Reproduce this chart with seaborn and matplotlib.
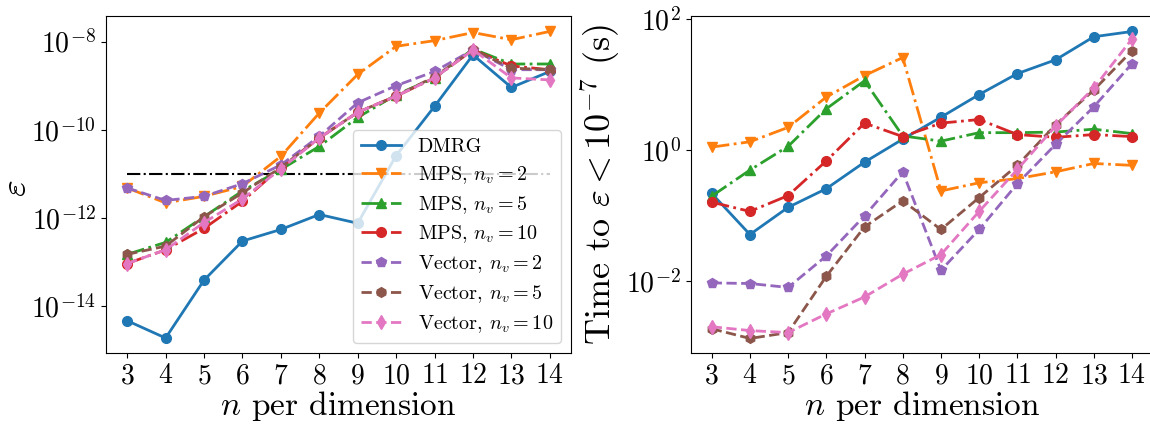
import matplotlib
matplotlib.use("Agg")
import matplotlib.pyplot as plt
import matplotlib.ticker as mticker
import seaborn as sns

plt.rcParams["font.family"] = ["serif"]
plt.rcParams["font.serif"] = ["cmr10", "DejaVu Serif"]
plt.rcParams["mathtext.fontset"] = "cm"
plt.rcParams["axes.formatter.use_mathtext"] = True
plt.rcParams["axes.unicode_minus"] = False

n = [3, 4, 5, 6, 7, 8, 9, 10, 11, 12, 13, 14]

labels = ["DMRG", r"MPS, $n_v = 2$", r"MPS, $n_v = 5$", r"MPS, $n_v = 10$",
          r"Vector, $n_v = 2$", r"Vector, $n_v = 5$", r"Vector, $n_v = 10$"]

# Left panel: error epsilon
err_dmrg = [4.7e-15, 1.9e-15, 3.9e-14, 3.0e-13, 5.5e-13, 1.2e-12, 7.6e-13, 2.6e-11, 3.4e-10, 5.0e-9, 9.1e-10, 2.1e-9]
err_mps2 = [4.8e-12, 2.2e-12, 3.1e-12, 5.2e-12, 2.5e-11, 2.4e-10, 1.8e-9, 7.8e-9, 1.05e-8, 1.6e-8, 1.1e-8, 1.7e-8]
err_mps5 = [1.5e-13, 2.8e-13, 1.07e-12, 4.1e-12, 1.26e-11, 4.2e-11, 1.9e-10, 6.2e-10, 1.5e-9, 6.8e-9, 3.1e-9, 3.1e-9]
err_mps10 = [9.3e-14, 1.9e-13, 5.8e-13, 2.4e-12, 1.4e-11, 6.5e-11, 2.5e-10, 5.8e-10, 1.5e-9, 6.5e-9, 2.8e-9, 2.3e-9]
err_vec2 = [4.8e-12, 2.5e-12, 3.1e-12, 6.0e-12, 1.6e-11, 7.1e-11, 4.1e-10, 1.0e-9, 2.1e-9, 6.5e-9, 2.3e-9, 2.3e-9]
err_vec5 = [1.5e-13, 2.3e-13, 1.07e-12, 3.7e-12, 1.4e-11, 6.5e-11, 2.5e-10, 5.8e-10, 1.6e-9, 6.5e-9, 2.5e-9, 2.3e-9]
err_vec10 = [9.3e-14, 1.9e-13, 7.9e-13, 2.7e-12, 1.3e-11, 6.5e-11, 2.5e-10, 5.8e-10, 1.5e-9, 6.5e-9, 1.5e-9, 1.35e-9]
threshold = 1e-11
left_yticks = [1e-14, 1e-12, 1e-10, 1e-8]

# Right panel: time to eps < 1e-7 (s)
t_dmrg = [0.22, 0.052, 0.135, 0.26, 0.66, 1.48, 3.2, 7.1, 14.8, 24, 54, 65]
t_mps2 = [1.12, 1.35, 2.24, 6.5, 13.8, 26, 0.24, 0.32, 0.37, 0.47, 0.63, 0.59]
t_mps5 = [0.20, 0.50, 1.15, 4.3, 11.5, 1.66, 1.38, 1.86, 1.86, 1.9, 2.1, 1.8]
t_mps10 = [0.162, 0.117, 0.204, 0.69, 2.6, 1.62, 2.6, 2.95, 1.74, 1.58, 1.74, 1.62]
t_vec2 = [0.0095, 0.0093, 0.0081, 0.0245, 0.10, 0.47, 0.0148, 0.062, 0.31, 1.23, 4.6, 21]
t_vec5 = [0.0019, 0.00135, 0.00166, 0.012, 0.068, 0.17, 0.062, 0.19, 0.59, 2.45, 8.3, 33]
t_vec10 = [0.00204, 0.00178, 0.00166, 0.0032, 0.0058, 0.0129, 0.0257, 0.117, 0.51, 2.34, 8.9, 50]
right_yticks = [1e-2, 1e0, 1e2]

colors = sns.color_palette("tab10", 7)
markers = ["o", "v", "^", "o", "p", "h", "d"]
styles = ["-", "-.", "-.", "-.", "--", "--", "--"]

fig = plt.figure(figsize=(11.5, 4.25), dpi=100)
ax1 = fig.add_axes([0.0922, 0.1694, 0.4043, 0.7930])
ax2 = fig.add_axes([0.6006, 0.1694, 0.4020, 0.7930])

left_series = [err_dmrg, err_mps2, err_mps5, err_mps10, err_vec2, err_vec5, err_vec10]
right_series = [t_dmrg, t_mps2, t_mps5, t_mps10, t_vec2, t_vec5, t_vec10]

for ax, series, ticks, with_label in [(ax1, left_series, left_yticks, True),
                                      (ax2, right_series, right_yticks, False)]:
    for i, vals in enumerate(series):
        sns.lineplot(x=n, y=vals, ax=ax, color=colors[i], marker=markers[i],
                     linestyle=styles[i], linewidth=2, markersize=7,
                     markeredgecolor=colors[i], markeredgewidth=1,
                     label=labels[i] if with_label else None, legend=False)
    ax.set_yscale("log")
    ax.set_yticks(ticks)
    ax.yaxis.set_minor_locator(mticker.NullLocator())
    ax.set_xticks(n)
    ax.tick_params(axis="both", labelsize=20)
    ax.set_xlabel(r"$n$ per dimension", fontsize=24, labelpad=0)

ax1.set_ylim(8.7e-16, 3.8e-8)
ax2.set_ylim(8.1e-4, 112)
ax1.hlines(threshold, n[0], n[-1], colors="k", linestyles="-.", linewidth=1.5, zorder=1)
ax1.set_ylabel(r"$\varepsilon$", fontsize=26)
ax1.yaxis.set_label_coords(-0.158, 0.49)
ax2.set_ylabel(r"Time to $\varepsilon < 10^{-7}$ (s)", fontsize=26, labelpad=2)
ax1.set_xlim(2.45, 14.55)
ax2.set_xlim(2.45, 14.55)

handles, labs = ax1.get_legend_handles_labels()
handles = [h for h, l in zip(handles, labs) if l in labels]
ax1.legend(handles, labels, loc="lower right", fontsize=14.5, labelspacing=0.4)

fig.savefig("out.png", dpi=100)
